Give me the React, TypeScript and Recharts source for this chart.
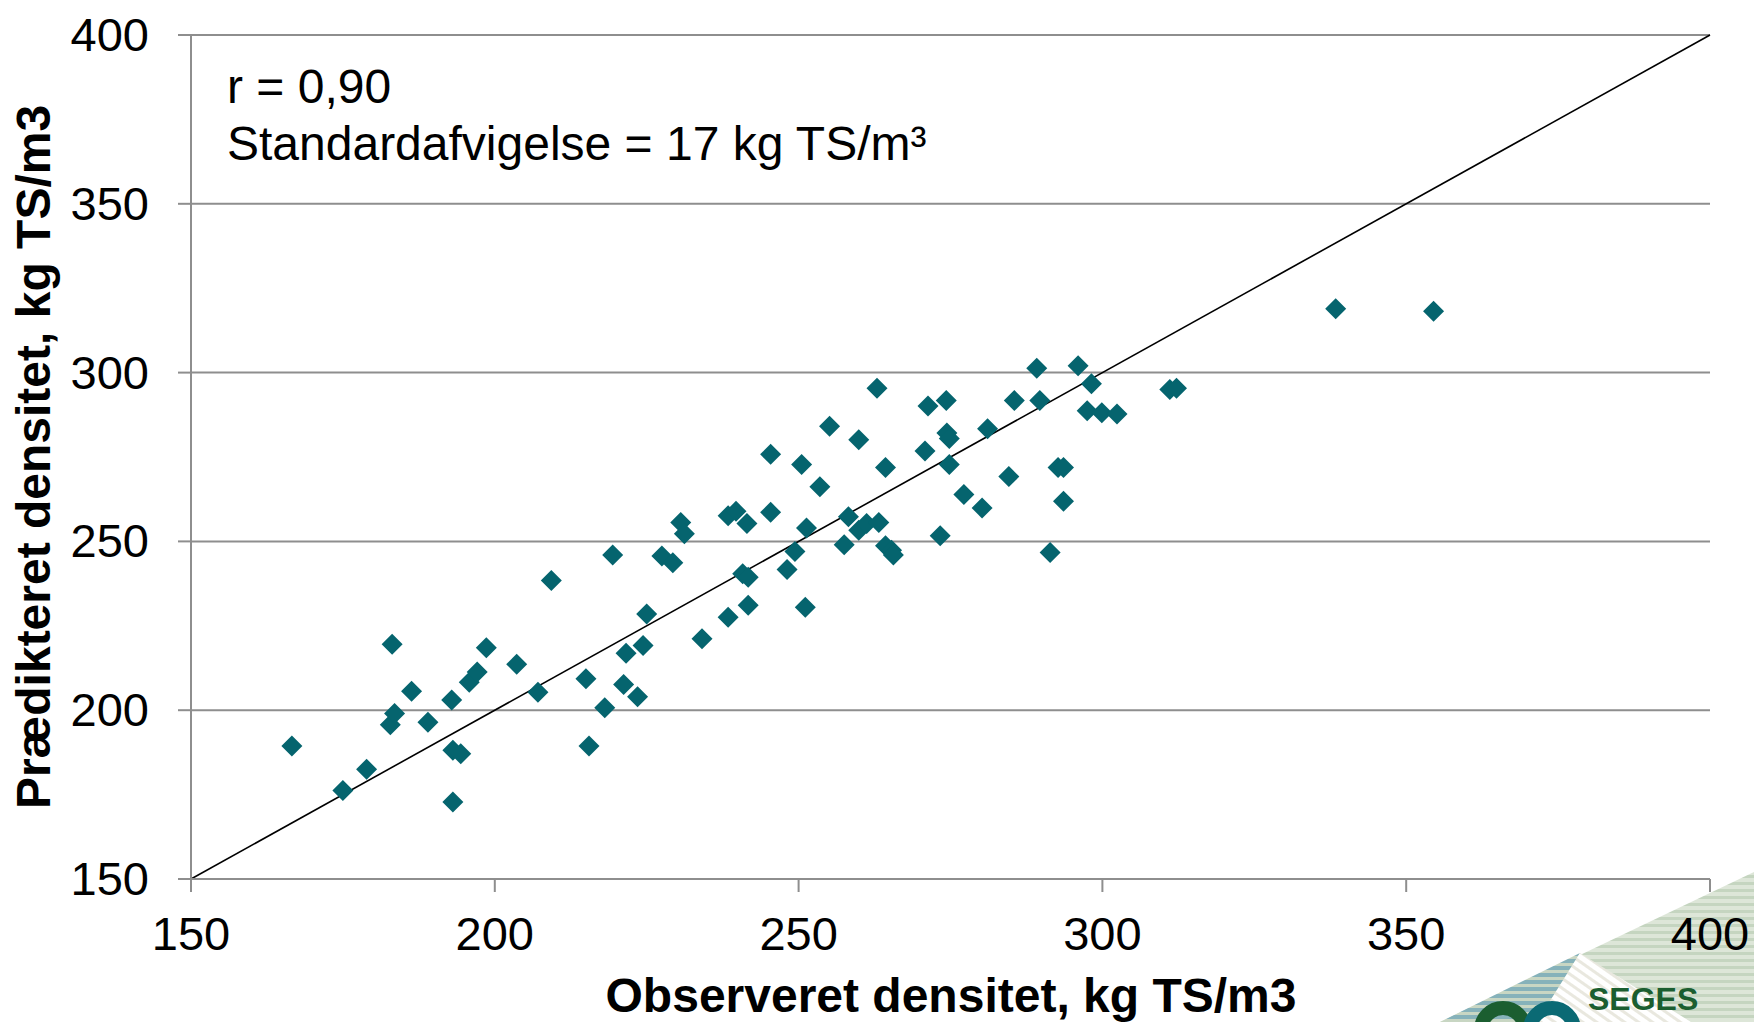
import React from 'react';
import {
  ScatterChart,
  Scatter,
  XAxis,
  YAxis,
  CartesianGrid,
  ReferenceLine,
} from 'recharts';

const observed = [
  166.6, 175.0, 178.9, 183.1, 182.8, 183.5, 186.3, 189.0, 192.9, 193.1,
  194.4, 193.1, 195.8, 197.1, 198.6, 203.6, 207.1, 209.3, 215.0, 215.5,
  218.1, 219.4, 221.2, 221.6, 223.5, 224.4, 225.0, 227.5, 229.3, 230.6,
  231.2, 234.1, 238.4, 238.4, 239.7, 240.8, 241.7, 241.7, 241.5, 245.4,
  245.4, 248.1, 249.4, 250.5, 251.3, 251.1, 253.5, 255.1, 257.5, 258.2,
  259.9, 259.9, 261.2, 263.2, 262.9, 264.3, 264.3, 265.3, 265.6, 270.8,
  271.3, 273.3, 274.3, 274.4, 274.8, 274.8, 277.2, 280.2, 281.1, 284.6,
  285.5, 289.2, 289.7, 291.4, 292.7, 293.6, 293.6, 296.0, 298.2, 297.5,
  299.9, 302.4, 311.1, 312.2, 338.4, 354.5,
];
const predicted = [
  189.4, 176.2, 182.5, 219.5, 195.7, 199.0, 205.6, 196.4, 203.0, 188.1,
  187.1, 172.8, 208.3, 211.3, 218.5, 213.6, 205.3, 238.4, 209.3, 189.4,
  200.7, 246.0, 207.6, 216.9, 204.0, 219.2, 228.5, 245.7, 243.7, 255.6,
  252.3, 221.2, 227.5, 257.6, 258.9, 240.4, 239.4, 231.1, 255.3, 275.8,
  258.6, 241.7, 247.0, 272.8, 254.0, 230.5, 266.2, 284.1, 249.0, 257.3,
  253.3, 280.1, 255.3, 255.6, 295.4, 271.9, 248.7, 247.4, 246.0, 276.8,
  290.1, 251.7, 291.7, 282.1, 280.5, 272.8, 263.9, 259.9, 283.4, 269.2,
  291.7, 301.3, 291.7, 246.7, 271.9, 271.9, 261.9, 302.0, 296.7, 288.7,
  288.1, 287.7, 295.0, 295.4, 318.9, 318.2,
];
const axisTicks = [150, 200, 250, 300, 350, 400];
const oneToOne = [150, 400];

const xTitle = 'Observeret densitet, kg TS/m3';
const yTitle = 'Prædikteret densitet, kg TS/m3';
const statLines = ['r = 0,90', 'Standardafvigelse = 17 kg TS/m³'];

const points = observed.map((x, i) => ({ x, y: predicted[i] }));

const FONT = '"Liberation Sans", Arial, sans-serif';
const MARKER = '#05646e';
const GRID = '#8e8e8e';

const Diamond = (props: any) => {
  const { cx, cy } = props;
  const r = 10.5;
  return (
    <polygon
      points={`${cx},${cy - r} ${cx + r},${cy} ${cx},${cy + r} ${cx - r},${cy}`}
      fill={MARKER}
    />
  );
};

const XTick = (props: any) => (
  <text x={props.x} y={props.y} dy={58} textAnchor="middle" fontSize={47} fill="#000" fontFamily={FONT}>
    {props.payload.value}
  </text>
);

const YTick = (props: any) => (
  <text x={props.x - 29} y={props.y} dy={16} textAnchor="end" fontSize={47} fill="#000" fontFamily={FONT}>
    {props.payload.value}
  </text>
);

// rough version of the SEGES watermark in the corner
const Logo = () => (
  <svg width={1754} height={1022} style={{ position: 'absolute', left: 0, top: 0, pointerEvents: 'none' }}>
    <defs>
      <pattern id="greenStripes" width="8" height="7" patternUnits="userSpaceOnUse">
        <rect width="8" height="7" fill="#dde6d8" />
        <rect width="8" height="3" fill="#c5d5c0" />
      </pattern>
      <pattern id="blueStripes" width="8" height="7" patternUnits="userSpaceOnUse">
        <rect width="8" height="7" fill="#c8d6c3" />
        <rect width="8" height="4" fill="#86b2ba" />
      </pattern>
      <pattern id="whiteStripes" width="8" height="8" patternUnits="userSpaceOnUse" patternTransform="rotate(35)">
        <rect width="8" height="8" fill="#ffffff" />
        <rect width="8" height="3" fill="#e9e8df" />
      </pattern>
    </defs>
    <polygon points="1754,872 1440,1022 1754,1022" fill="url(#greenStripes)" />
    <polygon points="1440,1022 1580,953 1537,1022" fill="url(#blueStripes)" />
    <polygon points="1580,953 1537,1022 1691,1022" fill="url(#whiteStripes)" />
    <circle cx={1503} cy={1030} r={22} fill="none" stroke="#1b5e30" strokeWidth={14} />
    <circle cx={1552} cy={1030} r={22} fill="none" stroke="#0b6a74" strokeWidth={14} />
    <text x={1588} y={1010} fontSize={32} fontWeight="bold" fill="#1b5e30" fontFamily={FONT}>
      SEGES
    </text>
  </svg>
);

const App: React.FC = () => {
  return (
    <div style={{ position: 'absolute', left: 0, top: 0, width: 1754, height: 1022, overflow: 'hidden', background: '#fff' }}>
      <Logo />
      <div style={{ position: 'absolute', left: 0, top: 0 }}>
        <ScatterChart width={1754} height={1022} margin={{ top: 35, right: 44, bottom: 0, left: 0 }}>
          <CartesianGrid vertical={false} stroke={GRID} strokeWidth={2} />
          <XAxis
            type="number"
            dataKey="x"
            domain={[150, 400]}
            ticks={axisTicks}
            height={143}
            tickSize={13}
            tickMargin={0}
            stroke={GRID}
            strokeWidth={2}
            tick={<XTick />}
            allowDataOverflow
          />
          <YAxis
            type="number"
            dataKey="y"
            domain={[150, 400]}
            ticks={axisTicks}
            width={191}
            tickSize={13}
            tickMargin={0}
            stroke={GRID}
            strokeWidth={2}
            tick={<YTick />}
            allowDataOverflow
          />
          <ReferenceLine
            segment={[
              { x: oneToOne[0], y: oneToOne[0] },
              { x: oneToOne[1], y: oneToOne[1] },
            ]}
            stroke="#000"
            strokeWidth={1.6}
          />
          <Scatter data={points} shape={<Diamond />} isAnimationActive={false} />
        </ScatterChart>
      </div>
      <svg width={1754} height={1022} style={{ position: 'absolute', left: 0, top: 0, pointerEvents: 'none' }}>
        <text x={227} y={103} fontSize={48} fill="#000" fontFamily={FONT}>
          {statLines[0]}
        </text>
        <text x={227} y={160} fontSize={48} fill="#000" fontFamily={FONT}>
          {statLines[1]}
        </text>
        <text x={951} y={1012} fontSize={48} fontWeight="bold" textAnchor="middle" fill="#000" fontFamily={FONT}>
          {xTitle}
        </text>
        <text
          x={0}
          y={0}
          transform="translate(50,457) rotate(-90)"
          fontSize={48}
          fontWeight="bold"
          textAnchor="middle"
          fill="#000"
          fontFamily={FONT}
        >
          {yTitle}
        </text>
      </svg>
    </div>
  );
};

export default App;
